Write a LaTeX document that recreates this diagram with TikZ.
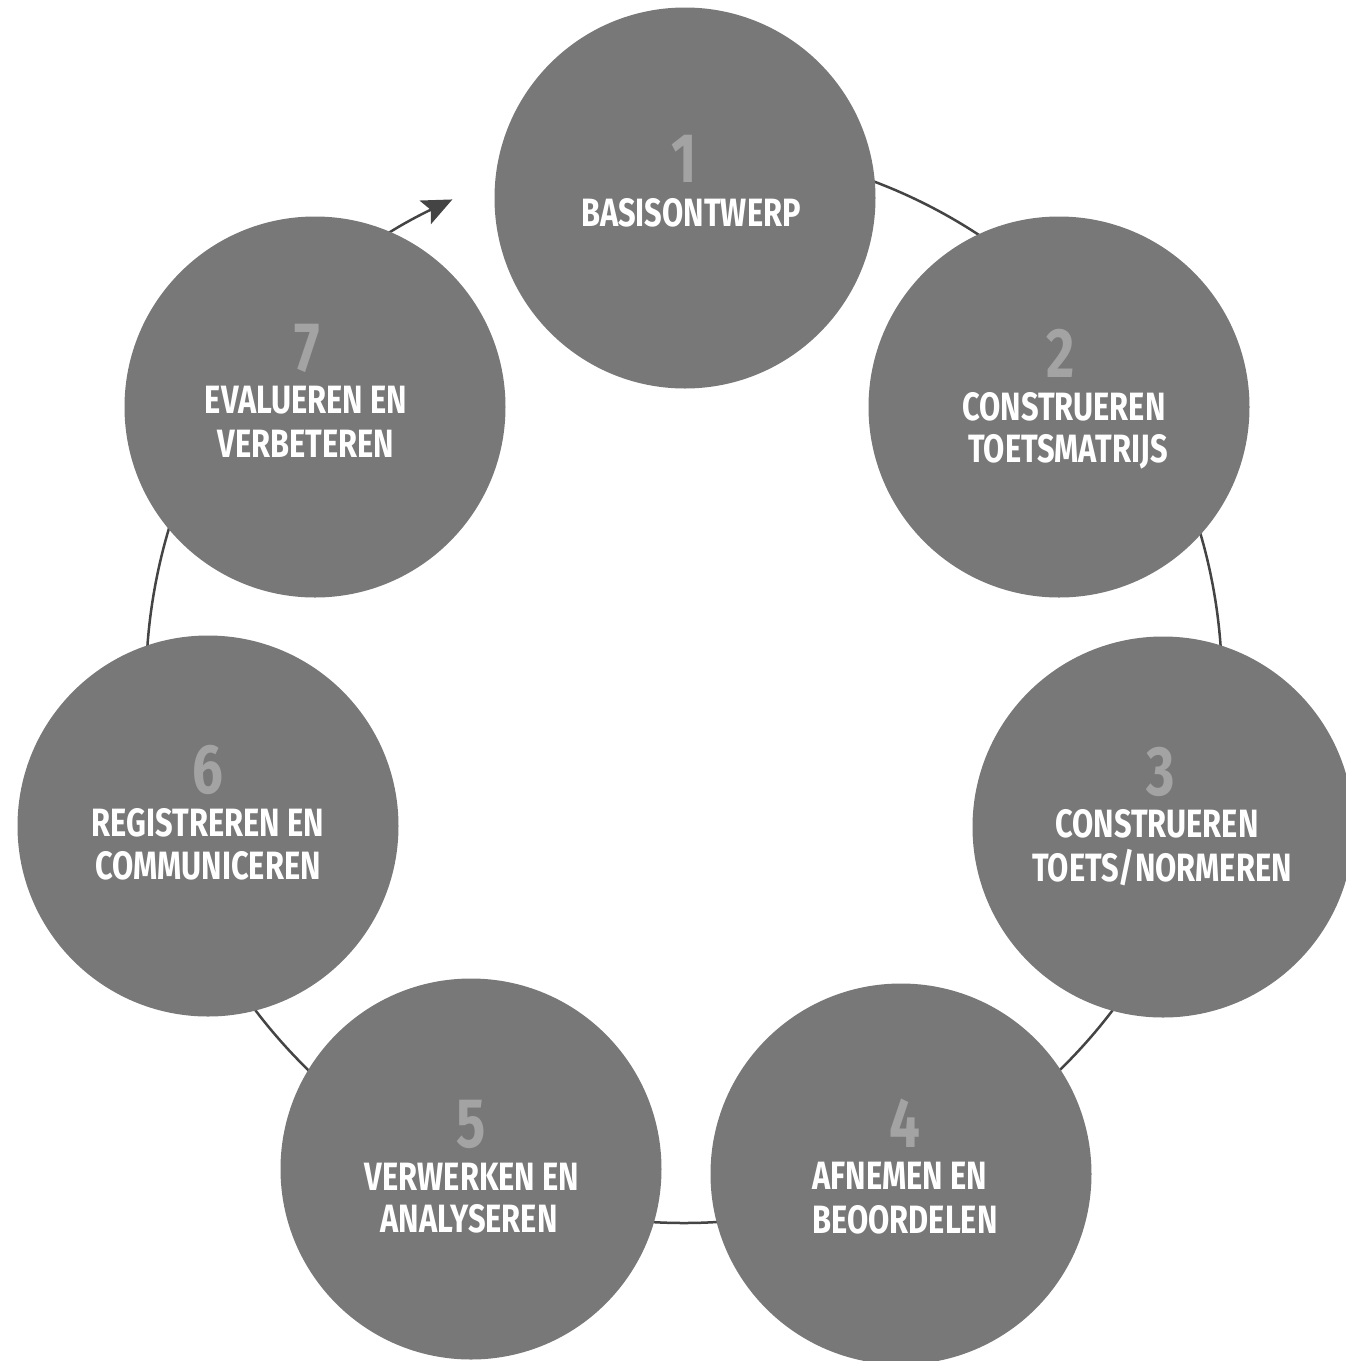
\documentclass[tikz,border=0pt]{standalone}
\usepackage{fontspec}
\setmainfont{Fira Sans}[FakeStretch=0.78]
\usetikzlibrary{arrows.meta}
\definecolor{discgray}{HTML}{787878}
\definecolor{numgray}{HTML}{A3A3A3}
\definecolor{ringgray}{HTML}{444444}
\tikzset{
  stage/.style={circle, fill=discgray, draw=none, inner sep=0pt, minimum size=381pt},
  stagenum/.style={anchor=base, text=numgray, inner sep=0pt, font=\fontsize{70}{80}\selectfont\bfseries},
  stagetxt/.style={anchor=base, text=white, inner sep=0pt, font=\fontsize{39.5}{44}\selectfont\bfseries},
  ringline/.style={draw=ringgray, line width=2.5pt}
}
\begin{document}
\begin{tikzpicture}[x=1pt,y=-1pt]
\useasboundingbox (0,0) rectangle (1345,1361);
% ring with arrow
\coordinate (ringstart) at (684,147);
\draw[ringline, -{Stealth[length=30pt,width=26pt,inset=6pt]}] (ringstart) arc[start angle=270, end angle=604.5, radius=538];
% circles
\node[stage] (c1) at (685,198) {};
\node[stage] (c2) at (1059,407) {};
\node[stage] (c3) at (1163,827) {};
\node[stage] (c4) at (901,1174) {};
\node[stage] (c5) at (471,1169) {};
\node[stage] (c6) at (208,826) {};
\node[stage] (c7) at (315,407) {};
% texts
\node[stagenum] (n1) at (684,182) {1};
\node[stagetxt] (t1a) at (691,226) {BASISONTWERP};
\node[stagenum] (n2) at (1061,377) {2};
\node[stagetxt] (t2a) at (1064,420) {CONSTRUEREN};
\node[stagetxt] (t2b) at (1068,462) {TOETSMATRIJS};
\node[stagenum] (n3) at (1161,795) {3};
\node[stagetxt] (t3a) at (1157,837) {CONSTRUEREN};
\node[stagetxt] (t3b) at (1162,881) {TOETS/NORMEREN};
\node[stagenum] (n4) at (905,1147) {4};
\node[stagetxt] (t4a) at (900,1189) {AFNEMEN EN};
\node[stagetxt] (t4b) at (905,1233) {BEOORDELEN};
\node[stagenum] (n5) at (471,1147) {5};
\node[stagetxt] (t5a) at (472,1190) {VERWERKEN EN};
\node[stagetxt] (t5b) at (469,1232) {ANALYSEREN};
\node[stagenum] (n6) at (208,793) {6};
\node[stagetxt] (t6a) at (208,836) {REGISTREREN EN};
\node[stagetxt] (t6b) at (208,879) {COMMUNICEREN};
\node[stagenum] (n7) at (307,371) {7};
\node[stagetxt] (t7a) at (306,413) {EVALUEREN EN};
\node[stagetxt] (t7b) at (306,457) {VERBETEREN};
\end{tikzpicture}
\end{document}
